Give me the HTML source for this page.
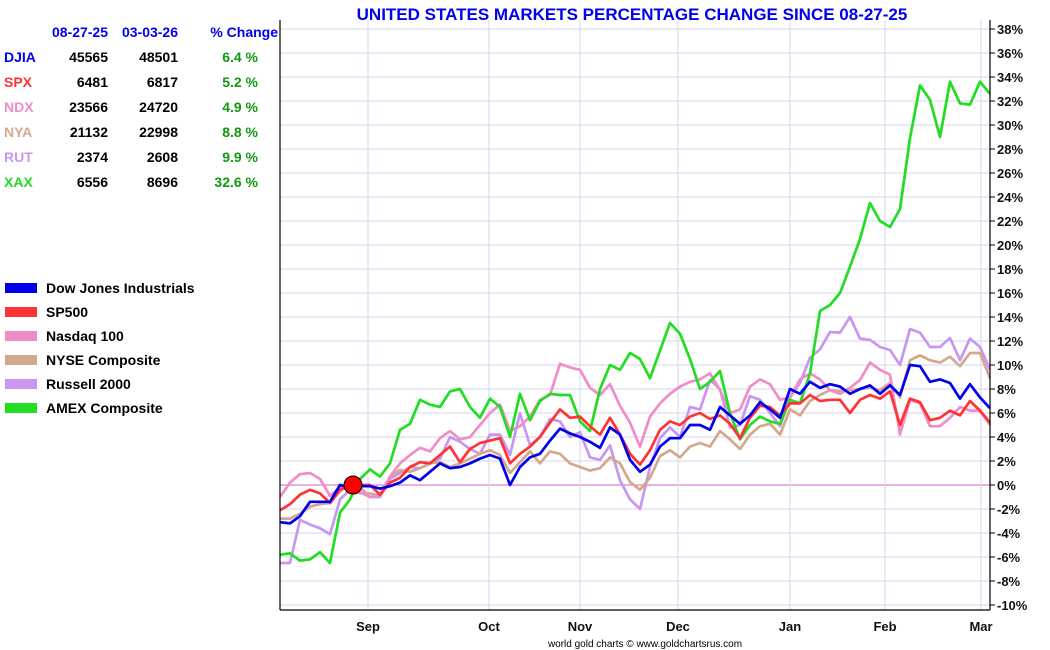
<!DOCTYPE html>
<html><head><meta charset="utf-8"><style>
html,body{margin:0;padding:0;background:#fff;}
svg{display:block;font-family:"Liberation Sans",sans-serif;}
</style></head><body>
<svg id="chart" width="1050" height="650" viewBox="0 0 1050 650">
<rect width="1050" height="650" fill="#fff"/>
<text x="632" y="20" text-anchor="middle" font-size="17" font-weight="bold" fill="#0000ee">UNITED STATES MARKETS PERCENTAGE CHANGE SINCE 08-27-25</text>
<g id="grid"></g>
<g id="series"></g>
<g id="axes"></g>
<g font-size="14" font-weight="bold">
<text x="108" y="37" text-anchor="end" fill="#0000ee">08-27-25</text>
<text x="178" y="37" text-anchor="end" fill="#0000ee">03-03-26</text>
<text x="278" y="37" text-anchor="end" fill="#0000ee">% Change</text>
<g id="tableRows"></g>
</g>
<g id="legend" font-size="14" font-weight="bold"></g>
<text x="645" y="647" text-anchor="middle" font-size="10" fill="#000">world gold charts © www.goldchartsrus.com</text>
</svg>
<script>
const NS="http://www.w3.org/2000/svg";
// sample index (each step ~2 trading days)
const sampleIdx=[...Array(72).keys()];
const yTicks=[-10,-8,-6,-4,-2,0,2,4,6,8,10,12,14,16,18,20,22,24,26,28,30,32,34,36,38];
const monthLabels=["Sep","Oct","Nov","Dec","Jan","Feb","Mar"];
const monthPos=[8.8,20.9,30,39.8,51,60.5,70.1];
const refPoint=[7.3,0];
const rutVals=[-6.5,-6.5,-2.9,-3.3,-3.6,-4.1,-1.2,-0.4,-0.2,-1.0,-1.0,0.5,1.0,1.5,1.4,1.8,2.2,4.0,3.6,3.0,2.6,4.2,4.2,2.5,6.0,3.3,4.0,5.5,5.3,4.0,4.4,2.3,2.1,3.3,0.4,-1.2,-2.0,1.5,3.9,4.8,4.0,6.5,6.3,8.75,8.0,4.8,5.0,7.4,7.1,6.0,4.9,7.3,8.5,10.6,11.3,12.75,12.7,14.0,12.2,12.1,11.5,11.25,10.0,13.0,12.7,11.5,11.5,12.25,10.4,12.2,11.5,9.6];
const nyaVals=[-2.8,-2.8,-2.4,-1.8,-1.6,-1.5,-0.5,0,-0.7,-0.7,-0.9,0.7,1.25,1.1,1.4,1.8,1.9,1.5,1.8,2.2,2.6,2.9,2.5,1.0,1.9,2.8,1.8,2.8,2.6,1.8,1.5,1.2,1.4,2.3,1.8,0.25,-0.4,0.6,2.4,2.9,2.3,3.2,3.5,3.2,4.5,3.8,3.0,4.2,4.9,5.1,4.2,6.3,5.8,7.0,7.5,7.9,7.8,7.9,8.0,8.1,7.9,8.5,7.3,10.4,10.8,10.4,10.2,10.7,9.9,11.0,11.0,8.9];
const ndxVals=[-1.0,0.2,0.9,1.0,0.5,-0.9,-0.2,-0.3,-0.6,-1.0,-0.8,0.7,1.8,2.5,3.1,2.8,3.9,4.5,3.8,4.0,5.0,6.0,6.7,4.5,4.9,5.7,7.1,7.5,10.1,9.8,9.6,8.1,7.5,8.4,6.6,5.2,3.2,5.7,6.8,7.6,8.2,8.6,8.8,9.3,7.9,6.0,6.3,8.2,8.8,8.4,7.1,7.3,8.8,9.3,8.8,7.9,7.6,8.1,8.75,10.2,9.6,9.2,4.2,7.1,6.8,4.9,4.9,5.6,6.5,6.2,6.2,5.0];
const xaxVals=[-5.8,-5.7,-6.3,-6.2,-5.6,-6.5,-2.3,-1.2,0.5,1.3,0.7,1.8,4.6,5.1,7.1,6.7,6.5,7.8,8.0,6.5,5.6,7.2,6.5,4.0,7.6,5.4,7.0,7.6,7.5,7.5,5.3,4.5,8.0,10.0,9.6,11.0,10.5,8.9,11.2,13.5,12.6,10.5,8.0,8.6,9.5,6.0,3.8,5.0,5.7,5.3,5.1,7.1,6.8,9.3,14.5,15.0,16.0,18.2,20.5,23.5,22.0,21.5,23.0,28.9,33.3,32.1,29.0,33.6,31.8,31.7,33.6,32.6];
const spxVals=[-2.1,-1.6,-0.8,-0.4,-0.7,-1.5,-0.4,0.0,0.0,0.0,-0.8,0.2,0.6,1.5,1.9,1.8,2.5,3.2,1.9,3.0,3.5,3.7,3.9,1.8,2.6,3.2,4.0,5.2,6.3,5.6,5.7,4.9,4.2,5.6,4.2,2.6,1.7,2.9,4.6,5.3,5.0,5.7,6.0,5.5,5.8,5.1,3.9,5.6,6.6,6.5,5.8,6.8,6.8,7.5,7.0,7.1,7.1,6.0,7.1,7.5,7.2,7.8,5.0,7.2,6.9,5.4,5.6,6.2,5.8,7.0,6.2,5.2];
const djiaVals=[-3.1,-3.2,-2.6,-1.4,-1.4,-1.4,0.0,-0.2,-0.1,-0.1,-0.3,-0.1,0.2,0.8,0.4,1.1,1.8,1.4,1.5,1.8,2.2,2.5,2.2,0.0,1.5,2.3,2.6,3.7,4.7,4.3,4.0,3.6,3.1,4.8,4.2,2.1,1.1,1.7,3.2,3.9,3.9,5.0,5.0,4.6,6.5,5.8,5.1,5.8,6.9,6.3,5.6,8.0,7.6,8.6,8.1,8.4,8.2,7.6,8.0,8.3,7.6,8.3,7.5,10.0,9.9,8.6,8.8,8.5,7.2,8.4,7.3,6.4];
const tableSyms=["DJIA","SPX","NDX","NYA","RUT","XAX"];
const tableStart=["45565","6481","23566","21132","2374","6556"];
const tableEnd=["48501","6817","24720","22998","2608","8696"];
const tablePct=["6.4 %","5.2 %","4.9 %","8.8 %","9.9 %","32.6 %"];
const legendNames=["Dow Jones Industrials","SP500","Nasdaq 100","NYSE Composite","Russell 2000","AMEX Composite"];

const colors={djia:"#0000ee",spx:"#ff3333",ndx:"#f08cc8",nya:"#d4a88c",rut:"#c896f0",xax:"#22dd22"};
const symColors=[colors.djia,colors.spx,colors.ndx,colors.nya,colors.rut,colors.xax];
const X0=280,X1=990,Y0=20,Y1=610;
const xs=i=>X0+i*(X1-X0)/(sampleIdx.length-1);
const ys=v=>485-v*12;
function mk(tag,attrs,parent){const e=document.createElementNS(NS,tag);for(const k in attrs)e.setAttribute(k,attrs[k]);parent.appendChild(e);return e;}
const grid=document.getElementById('grid'),axes=document.getElementById('axes'),ser=document.getElementById('series');
yTicks.forEach(t=>{
  const l=mk('line',{x1:X0,x2:X1,y1:ys(t),y2:ys(t),stroke:t===0?"#cc66cc":"#d4d4ee","stroke-width":1},grid);
  
  
  const tk=mk('line',{x1:X1,x2:X1+5,y1:ys(t),y2:ys(t),stroke:"#000"},axes);
  
  
  const tx=mk('text',{x:997,y:ys(t)+5,"font-size":13,"font-weight":"bold",fill:"#111"},axes);
  tx.textContent=t+"%";
  
  
});
monthLabels.forEach((m,i)=>{
  const x=xs(monthPos[i]);
  const l=mk('line',{x1:x,x2:x,y1:Y0,y2:Y1,stroke:"#d4d4ee"},grid);
  
  
  const tx=mk('text',{x:x,y:631,"text-anchor":"middle","font-size":13,"font-weight":"bold",fill:"#111"},axes);
  tx.textContent=m;
  
  
});
[[X0,Y0,X0,Y1],[X1,Y0,X1,Y1],[X0,Y1,X1,Y1]].forEach(a=>{
  const l=mk('line',{x1:a[0],y1:a[1],x2:a[2],y2:a[3],stroke:"#000","stroke-width":1.2},axes);
  
  
});
const order=[["rut",rutVals],["nya",nyaVals],["ndx",ndxVals],["xax",xaxVals],["spx",spxVals],["djia",djiaVals]];
order.forEach(([k,vals])=>{
  const d=vals.map((v,i)=>(i?"L":"M")+xs(sampleIdx[i]).toFixed(1)+","+ys(v).toFixed(1)).join("");
  const p=mk('path',{d:d,fill:"none",stroke:colors[k],"stroke-width":2.7,"stroke-linejoin":"round"},ser);
  
  
});
const dot=mk('circle',{cx:xs(refPoint[0]),cy:ys(refPoint[1]),r:9,fill:"#ff0000",stroke:"#000","stroke-width":1},ser);


const rows=document.getElementById('tableRows');
tableSyms.forEach((s,i)=>{
  const y=62+i*25;
  const a=mk('text',{x:4,y:y,fill:symColors[i]},rows);a.textContent=s;
  
  
  const b=mk('text',{x:108,y:y,"text-anchor":"end",fill:"#000"},rows);b.textContent=tableStart[i];
  
  
  const c=mk('text',{x:178,y:y,"text-anchor":"end",fill:"#000"},rows);c.textContent=tableEnd[i];
  
  
  const e=mk('text',{x:258,y:y,"text-anchor":"end",fill:"#119911"},rows);e.textContent=tablePct[i];
  
  
});
const leg=document.getElementById('legend');
legendNames.forEach((n,i)=>{
  const y=288+i*24;
  const r=mk('rect',{x:5,y:y-5,width:32,height:10,fill:symColors[i]},leg);
  
  
  const t=mk('text',{x:46,y:y+5,fill:"#000"},leg);t.textContent=n;
  
  
});
</script>
</body></html>
